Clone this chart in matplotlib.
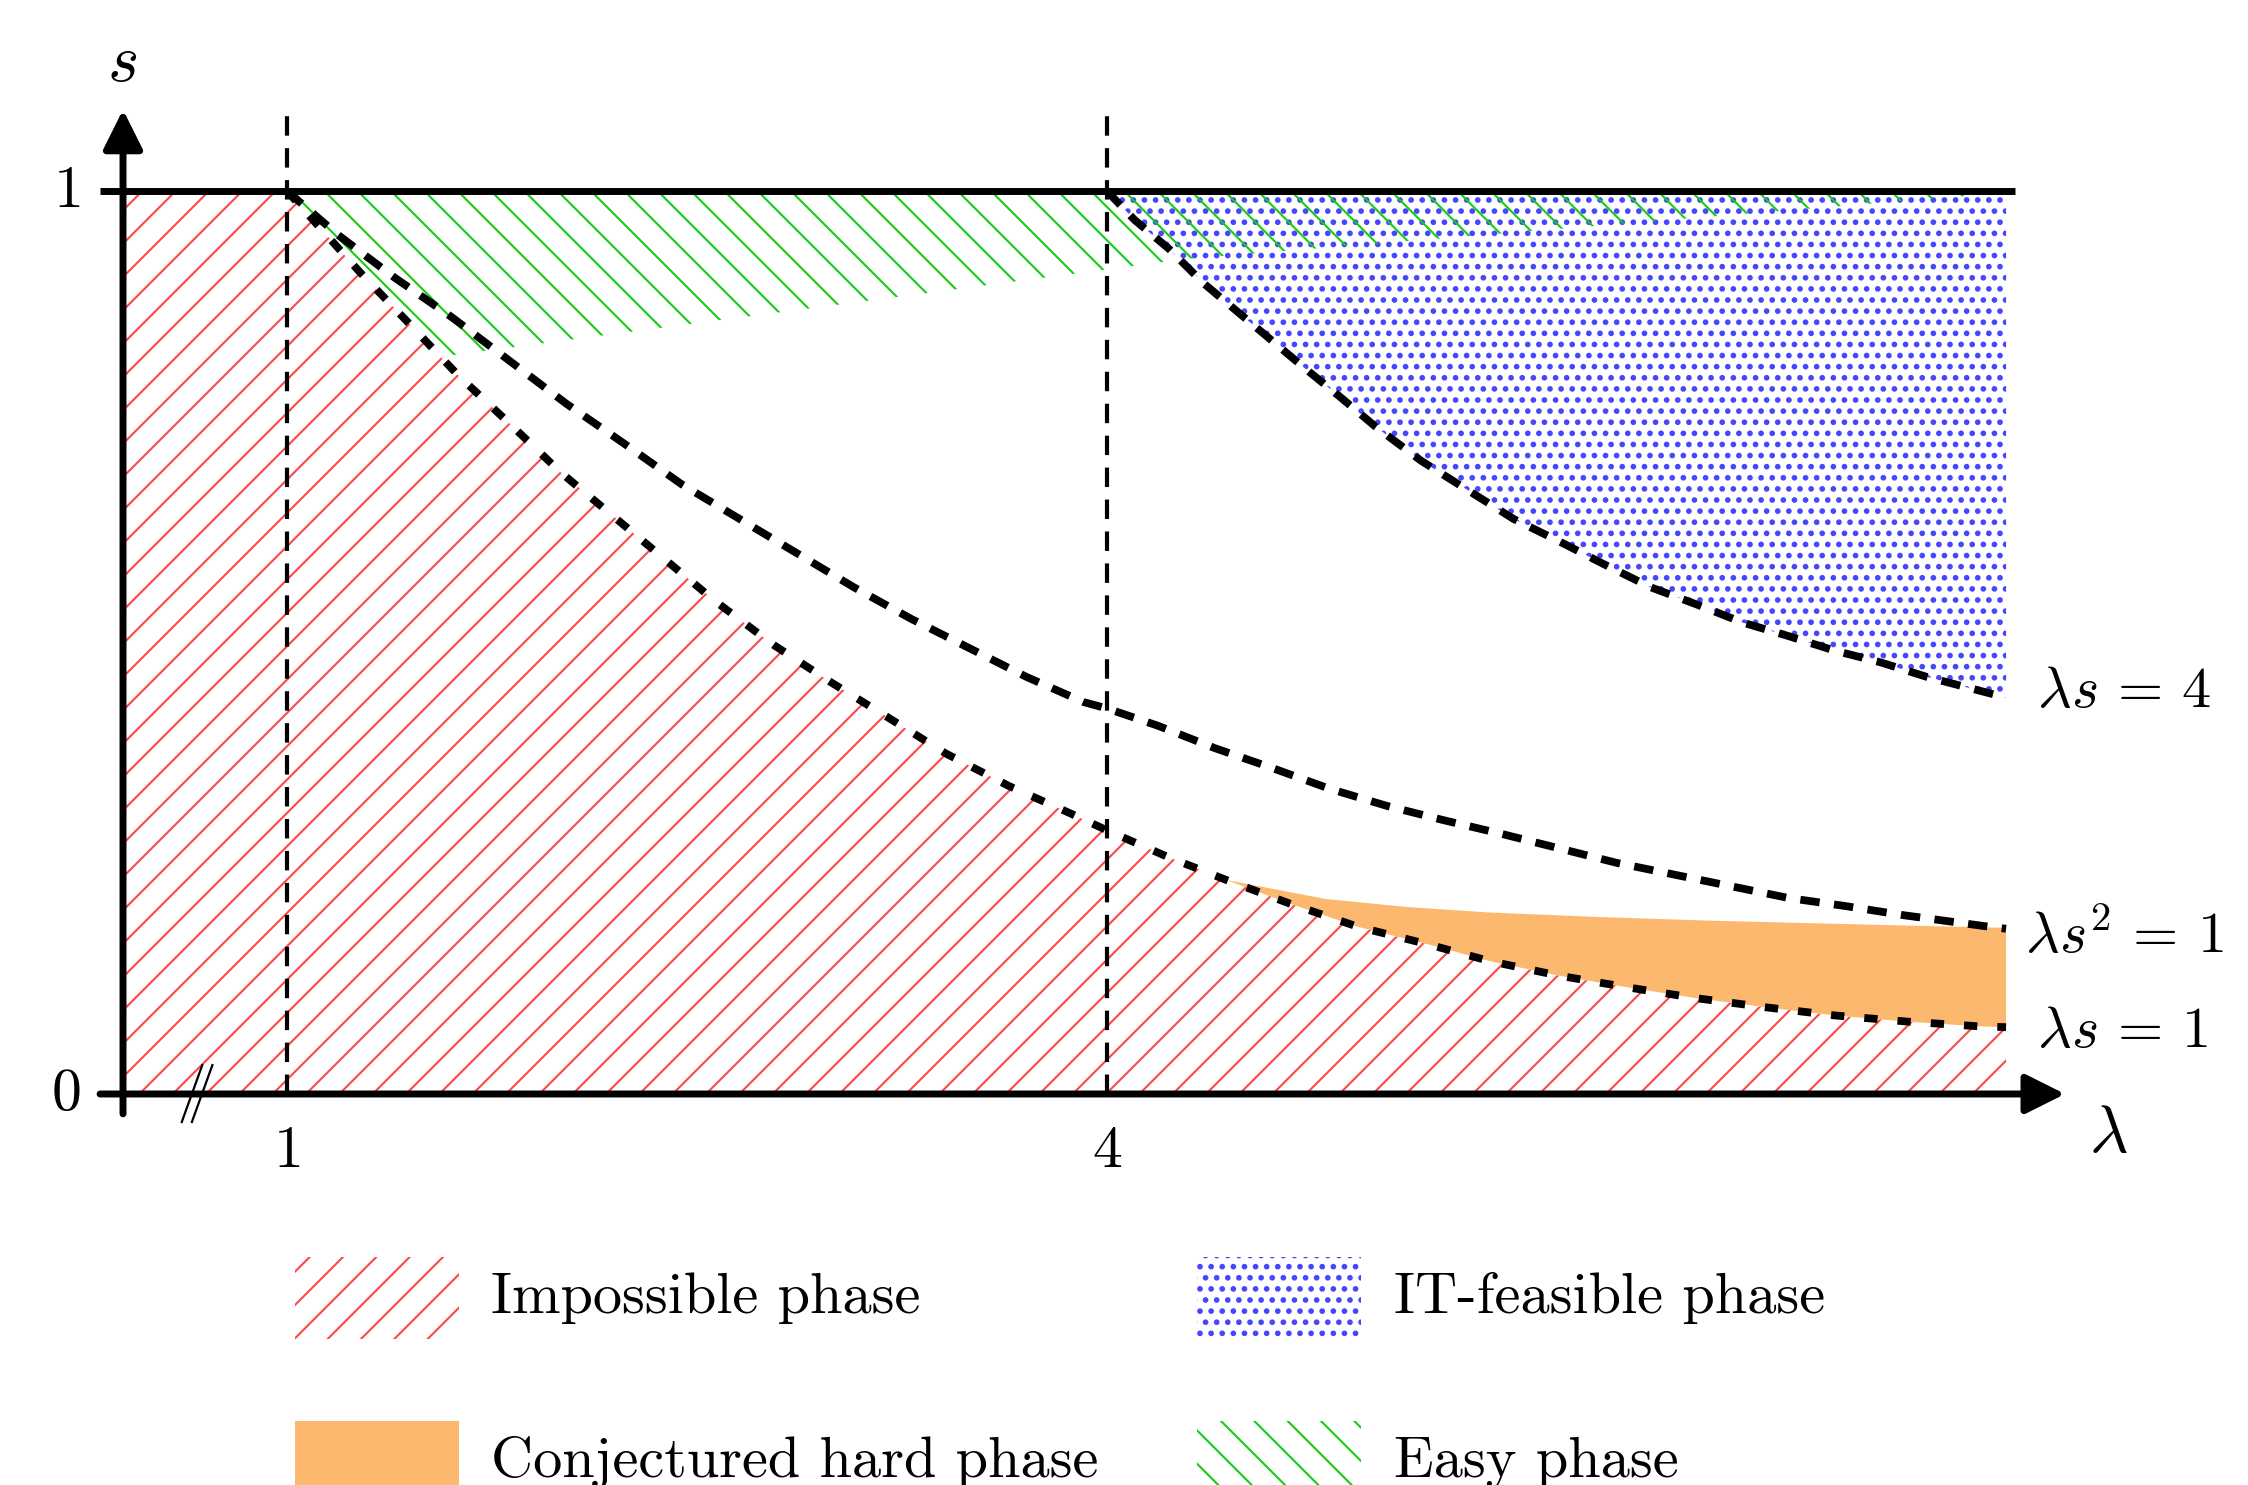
import numpy as np
import matplotlib
matplotlib.use("Agg")
import matplotlib.pyplot as plt
import matplotlib.hatch as mhatch
from matplotlib.patches import Polygon, Rectangle

plt.rcParams['mathtext.fontset'] = 'cm'
plt.rcParams['hatch.linewidth'] = 0.75
plt.rcParams['lines.scale_dashes'] = False
mhatch.SmallFilledCircles.size = 0.16   # slightly larger dots for the dotted hatch

# ---------------- data ----------------
# lambda*s = 1 boundary (schematic)
lam_s1 = [1.0, 1.267, 1.457, 1.626, 1.816, 2.003, 2.193, 2.383, 2.570, 2.782,
          2.990, 3.199, 3.411, 3.642, 3.872, 4.0, 4.227, 4.437, 4.668, 4.920,
          5.172, 5.403, 5.655, 5.907, 6.159, 6.411, 6.663, 6.936, 7.188, 7.29]
s_s1 = [1.0, 0.910, 0.850, 0.796, 0.742, 0.688, 0.640, 0.592, 0.545, 0.497,
        0.456, 0.417, 0.377, 0.341, 0.310, 0.292, 0.262, 0.237, 0.211, 0.185,
        0.166, 0.147, 0.131, 0.118, 0.106, 0.096, 0.087, 0.080, 0.075, 0.074]

# lambda*s^2 = 1 boundary
lam_s2 = [1.0, 1.184, 1.394, 1.604, 1.814, 2.024, 2.235, 2.445, 2.655, 2.865,
          3.075, 3.285, 3.495, 3.705, 3.915, 4.0, 4.185, 4.395, 4.605, 4.815,
          5.025, 5.235, 5.445, 5.655, 5.865, 6.075, 6.285, 6.495, 6.705, 6.915,
          7.209, 7.29]
s_s2 = [1.0, 0.952, 0.904, 0.860, 0.812, 0.764, 0.720, 0.675, 0.637, 0.599,
        0.561, 0.526, 0.494, 0.462, 0.434, 0.427, 0.408, 0.383, 0.361, 0.338,
        0.319, 0.303, 0.288, 0.272, 0.256, 0.243, 0.230, 0.217, 0.208, 0.198,
        0.186, 0.183]

# lambda*s = 4 boundary
lam_s4 = [4.0, 4.101, 4.227, 4.353, 4.479, 4.605, 4.731, 4.857, 4.983, 5.151,
          5.319, 5.487, 5.655, 5.823, 5.991, 6.159, 6.327, 6.495, 6.663, 6.831,
          6.999, 7.29]
s_s4 = [1.0, 0.968, 0.936, 0.898, 0.866, 0.834, 0.802, 0.771, 0.739, 0.701,
        0.669, 0.637, 0.612, 0.586, 0.561, 0.542, 0.522, 0.507, 0.491, 0.478,
        0.462, 0.439]

# easy phase lower boundary (top is s = 1)
lam_easy = [1.0, 1.60, 4.3, 7.29]
s_easy = [1.0, 0.818, 0.925, 0.998]

# conjectured hard phase upper boundary (lower is the lambda*s = 1 curve)
lam_hard = [4.437, 4.8, 5.1, 5.4, 5.8, 6.2, 6.6, 7.0, 7.29]
s_hard = [0.237, 0.216, 0.207, 0.201, 0.196, 0.192, 0.189, 0.186, 0.184]

lam_left = 0.40      # start of drawn lambda range (axis break)
lam_right = 7.29     # end of shaded regions
s_top = 1.0

x_ticks = [1, 4]
x_tick_labels = ['1', '4']
y_ticks = [0, 1]
y_tick_labels = ['0', '1']
curve_labels = [r'$\lambda s\,=\,4$', r'$\lambda s^2\,=\,1$', r'$\lambda s\,=\,1$']
legend_labels = ['Impossible phase', 'IT-feasible phase',
                 'Conjectured hard phase', 'Easy phase']

# ---------------- styles ----------------
RED = '#ff4646'
GREEN = '#14cc14'
BLUE = '#4646ff'
ORANGE = '#fdb870'

fig = plt.figure(figsize=(11.24, 7.425), dpi=200)
ax = fig.add_axes([0, 0, 1, 1])
ax.set_xlim(-0.0501, 8.1753)
ax.set_ylim(-0.4330, 1.2115)
ax.axis('off')

# ---------------- regions ----------------
red_poly = ([(lam_left, 0.0), (lam_left, s_top)] + list(zip(lam_s1, s_s1))
            + [(lam_right, 0.0)])
ax.add_patch(Polygon(red_poly, closed=True, facecolor='none', edgecolor=RED,
                     hatch='//', lw=0, zorder=1))

blue_poly = list(zip(lam_s4, s_s4)) + [(lam_right, s_top), (lam_s4[0], s_top)]
ax.add_patch(Polygon(blue_poly, closed=True, facecolor='none', edgecolor=BLUE,
                     hatch='...', lw=0, zorder=1))

green_poly = list(zip(lam_easy, s_easy)) + [(lam_right, s_top)]
ax.add_patch(Polygon(green_poly, closed=True, facecolor='none', edgecolor=GREEN,
                     hatch='\\\\', lw=0, zorder=1))

lower_part = [(l, s) for l, s in zip(lam_s1, s_s1) if l >= lam_hard[0]]
orange_poly = list(zip(lam_hard, s_hard)) + lower_part[::-1]
ax.add_patch(Polygon(orange_poly, closed=True, facecolor=ORANGE,
                     edgecolor='none', lw=0, zorder=1))

# ---------------- guide lines ----------------
for xt in x_ticks:
    ax.plot([xt, xt], [0, 1.091], color='k', lw=1.5, dashes=(7, 4.5), zorder=3)

ax.plot(lam_s2, s_s2, color='k', lw=2.8, dashes=(7, 5.2), zorder=4)
ax.plot(lam_s4, s_s4, color='k', lw=2.8, dashes=(7, 5.2), zorder=4)
ax.plot(lam_s1, s_s1, color='k', lw=2.8, dashes=(4.8, 7.2), zorder=4)

# ---------------- axes ----------------
ax.plot([0.316, 7.323], [s_top, s_top], color='k', lw=2.5,
        solid_capstyle='butt', zorder=5)
arrow_style = '-|>,head_length=1.2,head_width=0.6'
ax.annotate('', xy=(7.506, 0), xytext=(0.316, 0),
            arrowprops=dict(arrowstyle=arrow_style, lw=2.5, color='k',
                            shrinkA=0, shrinkB=0, mutation_scale=10),
            zorder=5)
ax.annotate('', xy=(lam_left, 1.090), xytext=(lam_left, -0.022),
            arrowprops=dict(arrowstyle=arrow_style, lw=2.5, color='k',
                            shrinkA=0, shrinkB=0, mutation_scale=10),
            zorder=5)

# axis break mark
for dx in (0.0, 0.037):
    ax.plot([0.615 + dx, 0.690 + dx], [-0.031, 0.032], color='k', lw=0.8,
            zorder=6)

# ---------------- text ----------------
FS = 21.5
for xt, lab in zip(x_ticks, x_tick_labels):
    ax.text(xt, -0.063, '$%s$' % lab, fontsize=FS, ha='center', va='center')
for yt, lab in zip(y_ticks, y_tick_labels):
    ax.text(0.192, yt, '$%s$' % lab, fontsize=FS, ha='center', va='center')

ax.text(0.396, 1.143, r'$s$', fontsize=24, ha='center', va='center')
ax.text(7.663, -0.043, r'$\lambda$', fontsize=24, ha='center', va='center')

curve_label_pos = [(7.405, 0.4286), (7.36, 0.156), (7.405, 0.052)]
for (lx, ly), lab in zip(curve_label_pos, curve_labels):
    ax.text(lx, ly, lab, fontsize=21, ha='left', va='baseline')

# ---------------- legend ----------------
leg_hatch = ['//', '...', None, '\\\\']
leg_color = [RED, BLUE, ORANGE, GREEN]
leg_x = [1.031, 4.330, 1.031, 4.330]
leg_y = [-0.2713, -0.2713, -0.4529, -0.4529]
leg_text_x = [1.746, 5.050, 1.746, 5.050]
leg_text_y = [-0.2425, -0.2425, -0.4241, -0.4241]
pw, ph = 0.598, 0.0908
for i, lab in enumerate(legend_labels):
    if leg_hatch[i] is None:
        ax.add_patch(Rectangle((leg_x[i], leg_y[i]), pw, ph,
                               facecolor=leg_color[i], edgecolor='none', lw=0))
    else:
        ax.add_patch(Rectangle((leg_x[i], leg_y[i]), pw, ph, facecolor='none',
                               edgecolor=leg_color[i], hatch=leg_hatch[i], lw=0))
    ax.text(leg_text_x[i], leg_text_y[i], lab, fontsize=21, family='cmr10',
            ha='left', va='baseline')

fig.savefig('out.png', dpi=200)
